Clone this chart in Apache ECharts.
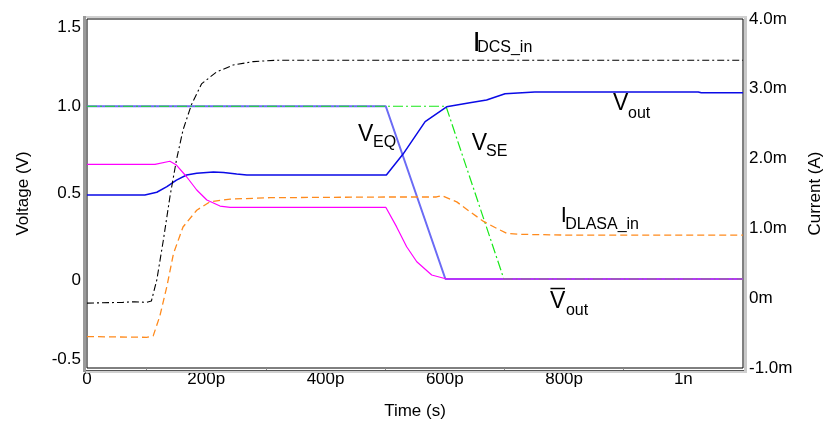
<!DOCTYPE html>
<html><head><meta charset="utf-8">
<script src="https://cdn.jsdelivr.net/npm/echarts@6/dist/echarts.min.js"></script>
<style>html,body{margin:0;padding:0;background:#fff}#c{width:827px;height:423px}</style>
</head><body><div id="c"></div>
<script>
// Time in ps, voltages in V (left axis), currents in mA (right axis)
const vEqT = [0, 501, 601, 1100];
const vEqV = [1.0, 1.0, 0.01, 0.01];
const vSeT = [0, 602, 699, 1100];
const vSeV = [1.0, 1.0, 0.01, 0.01];
const vOutT = [0, 97, 117, 134, 150, 167, 184, 212, 229, 251, 268, 502, 530, 567, 603, 642, 670, 701, 751, 1025, 1030, 1100];
const vOutV = [0.491, 0.491, 0.507, 0.539, 0.577, 0.606, 0.616, 0.623, 0.62, 0.612, 0.606, 0.606, 0.726, 0.912, 0.997, 1.02, 1.036, 1.072, 1.082, 1.082, 1.077, 1.077];
const vOutBarT = [0, 114, 139, 150, 167, 184, 201, 223, 240, 501, 519, 536, 553, 578, 603, 1100];
const vOutBarV = [0.667, 0.667, 0.685, 0.663, 0.596, 0.52, 0.463, 0.428, 0.421, 0.421, 0.31, 0.195, 0.109, 0.033, 0.01, 0.01];
const iDlasaT = [0, 100, 111, 122, 134, 145, 161, 184, 206, 240, 307, 500, 586, 595, 620, 642, 665, 687, 704, 726, 800, 1100];
const iDlasaV = [-0.55, -0.56, -0.54, -0.26, 0.17, 0.64, 1.02, 1.26, 1.38, 1.42, 1.44, 1.45, 1.45, 1.47, 1.38, 1.24, 1.10, 1.00, 0.93, 0.915, 0.905, 0.905];
const iDcsT = [0, 60, 80, 100, 108, 117, 128, 139, 150, 161, 175, 192, 217, 245, 279, 320, 1100];
const iDcsV = [-0.07, -0.06, -0.05, -0.06, -0.04, 0.26, 0.83, 1.45, 1.98, 2.41, 2.77, 3.07, 3.24, 3.34, 3.39, 3.41, 3.41];

const xTickValues = [0, 200, 400, 600, 800, 1000];
const xTickLabels = ['0', '200p', '400p', '600p', '800p', '1n'];
const xMinorTicks = [100, 300, 500, 700, 900];
const yLeftValues = [-0.5, 0, 0.5, 1.0, 1.5];
const yLeftLabels = ['-0.5', '0', '0.5', '1.0', '1.5'];
const yRightValues = [-1, 0, 1, 2, 3, 4];
const yRightLabels = ['-1.0m', '0m', '1.0m', '2.0m', '3.0m', '4.0m'];

// annotation anchors in data coordinates (time ps, voltage V)
const annotations = [
  { main: 'V', sub: 'EQ', t: 454.4, v: 0.835 },
  { main: 'V', sub: 'SE', t: 645, v: 0.787 },
  { main: 'V', sub: 'out', t: 882, v: 1.014 },
  { main: 'V', sub: 'out', t: 776.3, v: -0.119, bar: true },
  { main: 'I', sub: 'DCS_in', t: 646.7, v: 1.362, big: true },
  { main: 'I', sub: 'DLASA_in', t: 794.3, v: 0.371 }
];
const subOffsets = [[15, 7.5], [14.3, 8.1], [15, 9.6], [16, 8.9], [4.5, 4.5], [4.5, 8.5]];

const FONT = "'Liberation Sans', Arial, sans-serif";
const zip = (a, b) => a.map((t, i) => [t, b[i]]);

const chart = echarts.init(document.getElementById('c'), null, { renderer: 'canvas' });
function line(name, t, v, yi, color, width, type, z) {
  return { name, type: 'line', yAxisIndex: yi, data: zip(t, v), showSymbol: false, symbol: 'none',
    lineStyle: { color, width, type }, z, animation: false, silent: true };
}
const option = {
  animation: false,
  backgroundColor: '#fff',
  grid: { left: 87, right: 84, top: 19, bottom: 55, containLabel: false, outerBoundsMode: 'none',
    show: true, borderColor: '#000', borderWidth: 1, backgroundColor: '#fff' },
  xAxis: {
    type: 'value', min: 0, max: 1100, position: 'bottom',
    name: 'Time (s)', nameLocation: 'middle', nameGap: 35,
    nameTextStyle: { fontFamily: FONT, fontSize: 17, color: '#000' },
    axisLine: { show: false, onZero: false },
    splitLine: { show: false },
    axisTick: { show: true, customValues: xMinorTicks, length: 3, lineStyle: { color: '#888' } },
    axisLabel: { customValues: xTickValues, margin: 3, fontFamily: FONT, fontSize: 17, color: '#000',
      formatter: v => { const i = xTickValues.indexOf(v); return i >= 0 ? xTickLabels[i] : ''; } }
  },
  yAxis: [
    { type: 'value', min: -0.5, max: 1.5, interval: 0.5, position: 'left',
      name: 'Voltage (V)', nameLocation: 'middle', nameGap: 55, nameRotate: 90,
      nameTextStyle: { fontFamily: FONT, fontSize: 17, color: '#000' },
      axisLine: { show: false, onZero: false }, axisTick: { show: false }, splitLine: { show: false },
      axisLabel: { margin: 6, fontFamily: FONT, fontSize: 17, color: '#000',
        verticalAlignMaxLabel: 'top', verticalAlignMinLabel: 'bottom',
        formatter: v => { const i = yLeftValues.findIndex(x => Math.abs(x - v) < 1e-9); return i >= 0 ? yLeftLabels[i] : ''; } } },
    { type: 'value', min: -1, max: 4, interval: 1, position: 'right',
      name: 'Current (A)', nameLocation: 'middle', nameGap: 64, nameRotate: 90,
      nameTextStyle: { fontFamily: FONT, fontSize: 17, color: '#000' },
      axisLine: { show: false, onZero: false }, axisTick: { show: false }, splitLine: { show: false },
      axisLabel: { margin: 6, fontFamily: FONT, fontSize: 17, color: '#000',
        formatter: v => { const i = yRightValues.findIndex(x => Math.abs(x - v) < 1e-9); return i >= 0 ? yRightLabels[i] : ''; } } }
  ],
  series: [
    line('V_EQ', vEqT, vEqV, 0, '#6b6bf5', 2, 'solid', 2),
    line('V_SE', vSeT, vSeV, 0, '#18e818', 1.2, [10, 3, 2, 3], 3),
    line('V_out', vOutT, vOutV, 0, '#0a0ae6', 1.5, 'solid', 4),
    line('V_out_bar', vOutBarT, vOutBarV, 0, '#ff00ff', 1.2, 'solid', 5),
    line('I_DLASA_in', iDlasaT, iDlasaV, 1, '#ff8a1c', 1.3, [7, 4], 6),
    line('I_DCS_in', iDcsT, iDcsV, 1, '#000000', 1.1, [7, 3, 2, 3], 7)
  ]
};
chart.setOption(option);

// frame bands and annotations
const p0 = chart.convertToPixel({ xAxisIndex: 0, yAxisIndex: 0 }, [0, -0.5]);
const p1 = chart.convertToPixel({ xAxisIndex: 0, yAxisIndex: 0 }, [1100, 1.5]);
const L = Math.round(p0[0]), B = Math.round(p0[1]), R = Math.round(p1[0]), T = Math.round(p1[1]);
const gfx = [
  { type: 'rect', shape: { x: L - 4, y: T - 3, width: 3, height: B - T + 7 }, style: { fill: '#9a9a9a' }, z: 1 },
  { type: 'rect', shape: { x: L - 1, y: T - 3, width: R - L + 5, height: 2 }, style: { fill: '#d0d0d0' }, z: 1 },
  { type: 'rect', shape: { x: R + 1, y: T - 1, width: 3, height: B - T + 5 }, style: { fill: '#c8c8c8' }, z: 1 },
  { type: 'line', shape: { x1: L - 1, y1: B + 2.5, x2: R + 1, y2: B + 2.5 }, style: { stroke: '#555', lineWidth: 1 }, z: 1 },
  { type: 'rect', shape: { x: L - 1, y: B + 3, width: R - L + 5, height: 2 }, style: { fill: '#d0d0d0' }, z: 1 }
];
annotations.forEach((a, i) => {
  const p = chart.convertToPixel({ xAxisIndex: 0, yAxisIndex: 0 }, [a.t, a.v]);
  const mainSize = a.main === 'I' ? (a.big ? 28 : 22) : 23;
  const children = [
    { type: 'text', x: 0, y: 0, style: { text: a.main, fontFamily: FONT, fontSize: mainSize, fill: '#000', align: 'left', verticalAlign: 'middle' } },
    { type: 'text', x: subOffsets[i][0], y: subOffsets[i][1], style: { text: a.sub, fontFamily: FONT, fontSize: 16, fill: '#000', align: 'left', verticalAlign: 'middle' } }
  ];
  if (a.bar) children.push({ type: 'line', shape: { x1: 0.5, y1: -13, x2: 15, y2: -13 }, style: { stroke: '#000', lineWidth: 1.5 } });
  gfx.push({ type: 'group', x: p[0], y: p[1], children, z: 20 });
});
chart.setOption({ graphic: gfx });
</script></body></html>
